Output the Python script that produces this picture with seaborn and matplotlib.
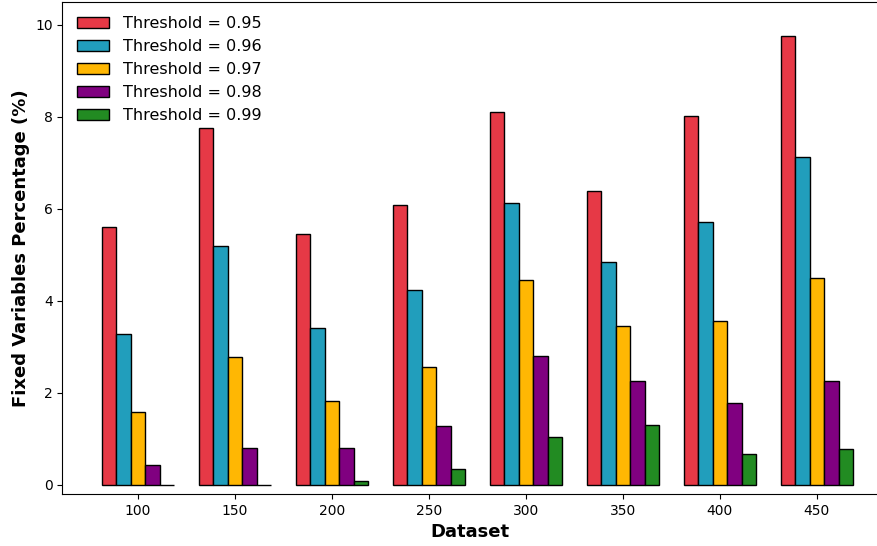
import matplotlib
matplotlib.use("Agg")
import matplotlib.pyplot as plt
import seaborn as sns
import pandas as pd

# values (percent of fixed variables)
datasets = ["100", "150", "200", "250", "300", "350", "400", "450"]
thresholds = ["0.95", "0.96", "0.97", "0.98", "0.99"]
t095 = [5.60, 7.75, 5.46, 6.08, 8.10, 6.39, 8.01, 9.75]
t096 = [3.29, 5.20, 3.42, 4.23, 6.13, 4.85, 5.71, 7.12]
t097 = [1.59, 2.78, 1.83, 2.57, 4.46, 3.45, 3.57, 4.49]
t098 = [0.42, 0.80, 0.80, 1.27, 2.80, 2.25, 1.78, 2.26]
t099 = [0.00, 0.00, 0.09, 0.35, 1.04, 1.30, 0.66, 0.78]
colors = ["#E63946", "#219EBC", "#FFB703", "#800080", "#228B22"]

series = [t095, t096, t097, t098, t099]
rows = []
for thr, vals in zip(thresholds, series):
    for ds, v in zip(datasets, vals):
        rows.append({"Dataset": ds, "Threshold": f"Threshold = {thr}", "Value": v})
df = pd.DataFrame(rows)

sns.set_style("ticks")

fig = plt.figure(figsize=(8.78, 5.46), dpi=100)
ax = fig.add_axes([62.5 / 878, 52 / 546, 1 - 62.5 / 878, 492 / 546])

sns.barplot(data=df, x="Dataset", y="Value", hue="Threshold",
            order=datasets, palette=colors, saturation=1, width=0.75,
            edgecolor="black", linewidth=1, errorbar=None, ax=ax)

ax.set_xlim(-0.778, 7.63)
ax.set_ylim(-0.2, 10.5)
ax.set_yticks([0, 2, 4, 6, 8, 10])
ax.spines["right"].set_visible(False)
ax.tick_params(labelsize=10, color="black", labelcolor="black")
for s in ["left", "bottom", "top"]:
    ax.spines[s].set_color("black")

ax.set_xlabel("Dataset", fontsize=13, fontweight="bold", color="black")
ax.set_ylabel("Fixed Variables Percentage (%)", fontsize=13, fontweight="bold",
              color="black")

leg = ax.legend(title=None, frameon=False, loc="upper left", fontsize=11.5,
                labelspacing=0.5, borderaxespad=0.5, handletextpad=0.9)
for t in leg.get_texts():
    t.set_color("black")

plt.savefig("out.png", dpi=100)
